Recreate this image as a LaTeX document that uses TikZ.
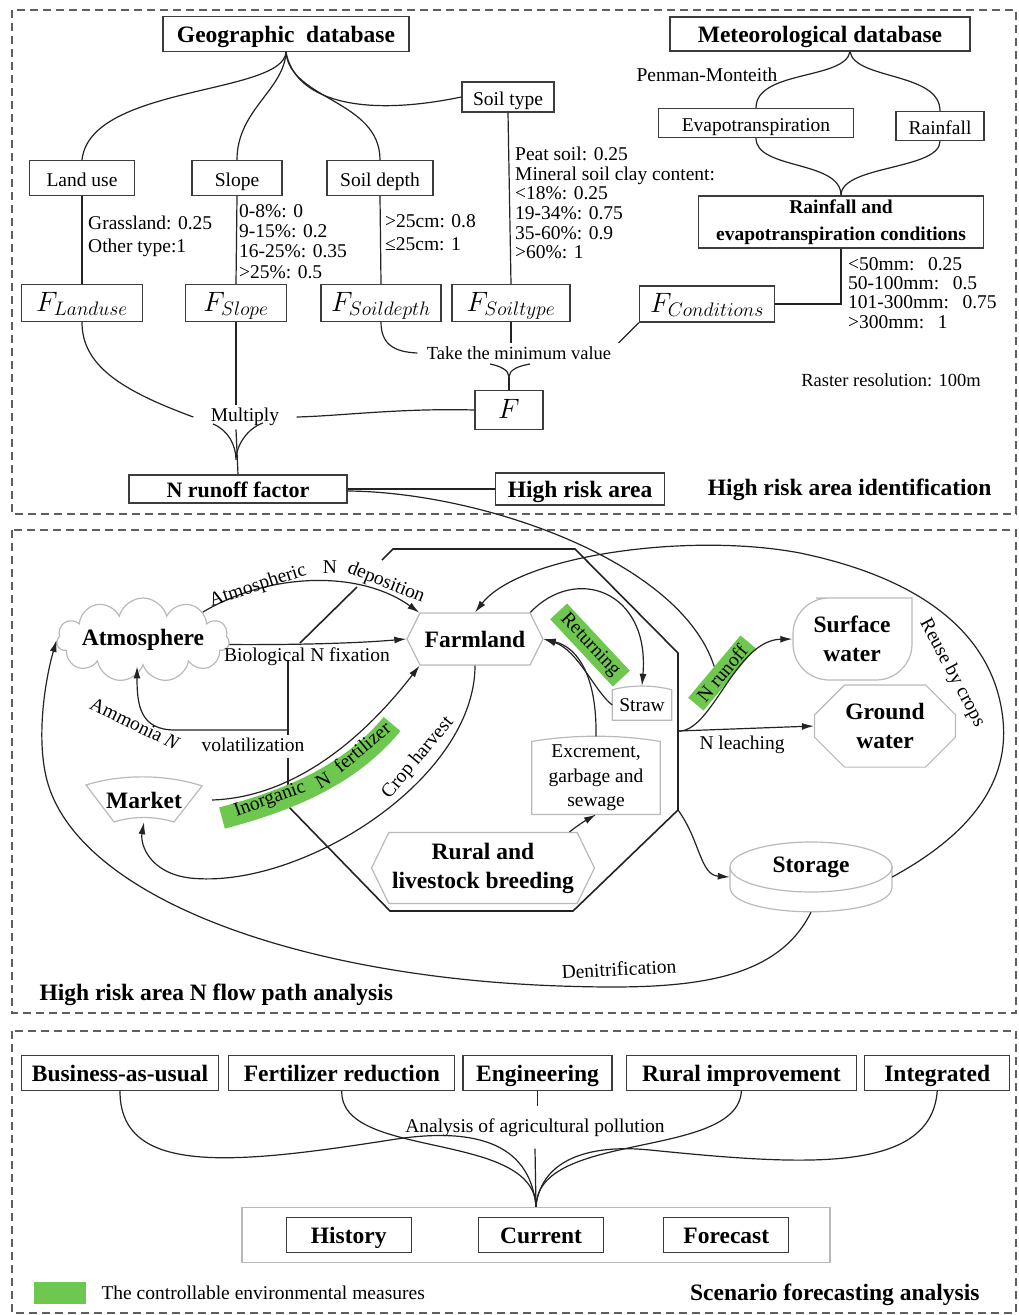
\RequirePackage{fix-cm}
\documentclass[tikz,border=0pt]{standalone}
\usepackage{fontspec}
\setmainfont{Liberation Serif}
\usetikzlibrary{arrows.meta,positioning,shapes.symbols,shapes.misc}
\definecolor{ink}{RGB}{35,35,35}
\definecolor{boxline}{RGB}{60,60,60}
\definecolor{softline}{RGB}{185,185,185}
\definecolor{framegray}{RGB}{95,95,95}
\definecolor{measgreen}{RGB}{110,200,80}
\begin{document}
\begin{tikzpicture}[x=1pt, y=-1pt,
  every node/.style={font=\fontsize{19.5}{20}\selectfont},
  outline/.style={rectangle, draw=boxline, line width=1.3pt, inner sep=2pt},
  box/.style={outline, text height=19pt, text depth=3pt},
  bbox/.style={box, font=\bfseries\fontsize{23.5}{24}\selectfont},
  mbox/.style={box, font=\fontsize{28}{30}\selectfont},
  bold/.style={font=\bfseries\fontsize{23.5}{29}\selectfont, align=center},
  soft/.style={draw=softline, line width=1.2pt},
  link/.style={draw=ink, line width=1.2pt},
  flow/.style={link, -{Latex[length=12pt,width=7pt]}},
  oct/.style={draw=ink, line width=1.6pt},
  measure/.style={fill=measgreen, inner xsep=7pt, inner ysep=3pt},
  vals/.style={anchor=north west, align=left, inner sep=0pt},
  title/.style={font=\bfseries\fontsize{23.5}{24}\selectfont},
  frame/.style={draw=framegray, line width=1.2pt, dash pattern=on 8pt off 5pt}]

\useasboundingbox (0,0) rectangle (1019,1315);

\draw[frame] (12,10) rectangle (1016,514);
\draw[frame] (12,530) rectangle (1016,1013);
\draw[frame] (12,1031) rectangle (1016,1313);

% high risk area identification
\node[bbox, minimum width=246pt, minimum height=35pt] (geo) at (286,34) {Geographic\ \ database};
\node[bbox, minimum width=300pt, minimum height=34pt] (met) at (820,34) {Meteorological database};
\node[box, minimum width=105pt, minimum height=35pt] (landuse) at (82,178) {Land use};
\node[box, minimum width=90pt, minimum height=35pt] (slope) at (237,178) {Slope};
\node[box, minimum width=106pt, minimum height=35pt] (soildepth) at (380,178) {Soil depth};
\node[box, minimum width=92pt, minimum height=30pt] (soiltype) at (508,97) {Soil type};
\node[box, minimum width=195pt, minimum height=29pt] (evapo) at (756,123) {Evapotranspiration};
\node[box, minimum width=88pt, minimum height=29pt] (rainfall) at (940,126) {Rainfall};
\node[outline, align=center, font=\bfseries\fontsize{19.5}{27}\selectfont, minimum width=285pt, minimum height=52pt] (cond) at (841,222) {Rainfall and\\evapotranspiration conditions};

\node[mbox, minimum width=121pt, minimum height=37pt] (fland) at (82,303) {$F_{Landuse}$};
\node[mbox, minimum width=101pt, minimum height=37pt] (fslope) at (236,303) {$F_{Slope}$};
\node[mbox, minimum width=120pt, minimum height=37pt] (fsoild) at (381,303) {$F_{Soildepth}$};
\node[mbox, minimum width=118pt, minimum height=37pt] (fsoilt) at (511,303) {$F_{Soiltype}$};
\node[mbox, minimum width=135pt, minimum height=36pt] (fcond) at (707,304) {$F_{Conditions}$};
\node[mbox, minimum width=68pt, minimum height=39pt] (ftotal) at (509,410) {$F$};
\node[bbox, font=\bfseries\fontsize{22}{24}\selectfont, minimum width=218pt, minimum height=28pt] (nfactor) at (238,489) {N runoff factor};
\node[bbox, minimum width=169pt, minimum height=32pt] (highrisk) at (580,489) {High risk area};

\node[vals, font=\fontsize{19.5}{23}\selectfont] (landvals) at (88,216) {Grassland: 0.25\\Other type:1};
\node[vals, font=\fontsize{19.5}{20.3}\selectfont] (slopevals) at (239,204) {0-8\%: 0\\9-15\%: 0.2\\16-25\%: 0.35\\>25\%: 0.5};
\node[vals, font=\fontsize{19.5}{23}\selectfont] (depthvals) at (385,214) {>25cm: 0.8\\≤25cm: 1};
\node[vals, font=\fontsize{19.5}{19.6}\selectfont] (typevals) at (515,147) {Peat soil: 0.25\\Mineral soil clay content:\\<18\%: 0.25\\19-34\%: 0.75\\35-60\%: 0.9\\>60\%: 1};
\node[vals, font=\fontsize{19.5}{19.3}\selectfont] (condvals) at (848,257) {<50mm:\hspace{0.7em}0.25\\50-100mm:\hspace{0.7em}0.5\\101-300mm:\hspace{0.7em}0.75\\>300mm:\hspace{0.7em}1};
\node (penman) at (707,75) {Penman-Monteith};
\node[font=\fontsize{18.5}{20}\selectfont] (mintext) at (519,353) {Take the minimum value};
\node (multiply) at (245,417) {Multiply};
\node[font=\fontsize{18.5}{20}\selectfont] (raster) at (891,380) {Raster resolution: 100m};
\node[title, anchor=east] (idtitle) at (995,490) {High risk area identification};

\draw[link] (geo.south) .. controls (283,95) and (90,85) .. (landuse.north);
\draw[link] (geo.south) .. controls (284,90) and (237,110) .. (slope.north);
\draw[link] (geo.south) .. controls (290,100) and (380,100) .. (soildepth.north);
\draw[link] (geo.south) .. controls (295,100) and (360,118) .. (soiltype.west);
\draw[link] (landuse.south) -- (fland.north);
\draw[link] (slope.south) -- (fslope.north);
\draw[link] (soildepth.south) -- (fsoild.north);
\draw[link] (soiltype.south) -- (fsoilt.north);
\draw[link] ([xshift=30pt]met.south) .. controls (845,80) and (756,70) .. (evapo.north);
\draw[link] ([xshift=30pt]met.south) .. controls (855,80) and (940,72) .. (rainfall.north);
\draw[link] (evapo.south) .. controls (756,170) and (841,160) .. (cond.north);
\draw[link] (rainfall.south) .. controls (940,170) and (841,165) .. (cond.north);
\draw[link] (cond.south) |- (fcond.east);

\draw[link] (fsoild.south) .. controls (381,345) and (395,352) .. ([xshift=-6pt]mintext.west);
\draw[link] (fsoilt.south) -- (fsoilt.south |- mintext.north);
\draw[link] (fcond.south west) -- ([xshift=4pt]mintext.north east);
\coordinate (minfork) at (509,377);
\coordinate (minleft) at (490,364);
\coordinate (minright) at (530,364);
\draw[link] (minleft) .. controls (500,366) and (509,370) .. (minfork) .. controls (509,370) and (518,366) .. (minright);
\draw[link] (minfork) -- (ftotal.north);

\coordinate (multfork) at (236,460);
\coordinate (multleft) at (213,424);
\coordinate (multright) at (263,423);
\draw[link] (fslope.south) -- (fslope.south |- multiply.north);
\draw[link] (fslope.south |- multiply.south) -- (nfactor.north);
\draw[link] (multleft) .. controls (228,430) and (236,445) .. (multfork) .. controls (236,445) and (248,428) .. (multright);
\draw[link] (fland.south) .. controls (82,365) and (120,390) .. ([xshift=-14pt]multiply.west);
\draw[link] (ftotal.west) .. controls (400,408) and (340,416) .. ([xshift=14pt]multiply.east);
\draw[link] (nfactor.east) -- (highrisk.west);

% N flow path
\node[bold, cloud, cloud puffs=11, cloud ignores aspect, soft, minimum width=142pt, minimum height=84pt, inner sep=0pt] (atmos) at (143,640) {Atmosphere};
\node[bold, signal, signal to=west and east, signal pointer angle=127, soft, minimum width=136pt, minimum height=52pt] (farm) at (475,639) {Farmland};
\node[minimum width=59pt, minimum height=30pt] (straw) at (642,705) {Straw};
\node[align=center, font=\fontsize{19.5}{24.5}\selectfont, minimum width=128pt, minimum height=70pt] (excrement) at (596,778) {Excrement,\\garbage and\\sewage};
\node[bold, signal, signal to=west and east, signal pointer angle=128, soft, minimum width=220pt, minimum height=71pt] (rural) at (483,868) {Rural and\\livestock breeding};
\node[bold, minimum width=119pt, minimum height=82pt] (surface) at (852,639) {Surface\\water};
\node[bold, chamfered rectangle, chamfered rectangle sep=15pt, soft, minimum width=141pt, minimum height=69pt] (ground) at (885,726) {Ground\\water};
\node[bold, minimum width=162pt, minimum height=50pt] (storage) at (811,867) {Storage};
\node[bold, minimum width=116pt, minimum height=44pt] (market) at (144,800) {Market};

\draw[soft] (straw.south west) -- (straw.north west) .. controls +(18,-5) and +(-18,-5) .. (straw.north east) -- (straw.south east) -- cycle;
\draw[soft] (excrement.south west) -- (excrement.north west) .. controls +(40,-7) and +(-40,-7) .. (excrement.north east) -- (excrement.south east) -- cycle;
\draw[soft] (852,598) -- (912,598) -- (912,640) [rounded corners=36pt] -- (912,680) -- (793,680) -- (793,598) -- cycle;
\draw[soft] (811,867) ellipse [x radius=81, y radius=25];
\draw[soft] (730,867) -- (730,887) .. controls (730,920) and (892,920) .. (892,887) -- (892,867);
\draw[soft] (86,785) .. controls (120,774) and (167,774) .. (202,786) -- (174,822) .. controls (155,816) and (132,816) .. (114,822) -- cycle;

\draw[oct] (300,643) -- (357,587);
\draw[oct] (382,560) -- (393,549) -- (575,549) -- (678,653) -- (678,810) -- (573,911) -- (390,911) -- (288,806) -- (288,758);
\draw[oct] (288,735) -- (288,660);
\coordinate (volat) at (288,730);
\coordinate (octE) at (678,731);
\coordinate (octSE) at (678,810);

\draw[measgreen, line width=22pt] (222,818) .. controls (290,800) and (350,775) .. (392,724);
\node[measure, rotate=-47] (returnlab) at (590,645) {Returning};
\node[measure, rotate=50] (runofflab) at (722,673) {N runoff};

\draw[flow] (atmos.25) .. controls (270,572) and (360,570) .. (farm.north west);
\draw[flow] (atmos.-3) .. controls (300,645) and (360,643) .. (farm.west);
\draw[flow] (volat) -- (175,730) .. controls (140,730) and (137,705) .. ([xshift=-6pt]atmos.south);
\draw[flow] ([xshift=10pt]market.east) .. controls (300,797) and (370,730) .. (farm.south west);
\draw[flow] (farm.south) .. controls (475,780) and (300,890) .. (190,878) .. controls (150,873) and (140,845) .. (market.south);
\draw[flow] ([yshift=-10pt]storage.east) .. controls (960,840) and (1010,790) .. (1003,720) .. controls (995,640) and (930,580) .. (800,553) .. controls (690,532) and (520,555) .. (farm.north);
\draw[flow] ([yshift=-20pt]storage.south) .. controls (775,985) and (680,990) .. (560,986) .. controls (300,977) and (90,900) .. (50,790) .. controls (34,746) and (45,680) .. (atmos.west);
\draw[flow] (farm.north east) .. controls (575,565) and (650,590) .. ([yshift=4pt]straw.north);
\draw[flow] (straw.west) .. controls (595,692) and (578,650) .. (farm.east);
\draw[flow] ([yshift=5pt]excrement.north) .. controls (597,680) and (580,648) .. (farm.east);
\draw[flow] ([xshift=-8pt]rural.north east) .. controls (582,822) and (590,818) .. (excrement.south);
\draw[flow] (octE) .. controls (712,733) and (735,640) .. (surface.west);
\draw[flow] (octE) -- (ground.west);
\draw[flow] (octSE) .. controls (700,840) and (700,875) .. ([yshift=-10pt]storage.west);
\draw[link] ([yshift=-2pt]nfactor.east) .. controls (480,492) and (680,560) .. (runofflab.north);

\node[rotate=18] (deplab1) at (258,586) {Atmospheric};
\node (deplab2) at (330,567) {N};
\node[rotate=-22] (deplab3) at (386,583) {deposition};
\node (fixlab) at (307,657) {Biological N fixation};
\node[rotate=-26] (ammlab) at (135,724) {Ammonia \textit{N}};
\node (vollab) at (253,745) {volatilization};
\node[rotate=20] (inorglab1) at (270,800) {Inorganic};
\node[rotate=30] (inorglab2) at (323,780) {N};
\node[rotate=40] (inorglab3) at (362,747) {fertilizer};
\node[rotate=50] (harvlab) at (418,758) {Crop harvest};
\node[rotate=-62] (reuselab) at (952,673) {Reuse by crops};
\node (leachlab) at (742,745) {N leaching};
\node[rotate=3] (denitlab) at (619,969) {Denitrification};
\node[title, anchor=west] (flowtitle) at (36,995) {High risk area N flow path analysis};

% scenario forecasting
\node[bbox, minimum width=197pt, minimum height=35pt] (bau) at (120,1073) {Business-as-usual};
\node[bbox, minimum width=226pt, minimum height=35pt, right=9pt of bau] (fertred) {Fertilizer reduction};
\node[bbox, minimum width=149pt, minimum height=35pt, right=7pt of fertred] (engin) {Engineering};
\node[bbox, minimum width=230pt, minimum height=35pt, right=13pt of engin] (ruralimp) {Rural improvement};
\node[bbox, minimum width=145pt, minimum height=35pt, right=7pt of ruralimp] (integ) {Integrated};
\node (analysis) at (535,1128) {Analysis of agricultural pollution};
\node[soft, minimum width=588pt, minimum height=55pt] (period) at (536,1235) {};
\node[bbox, minimum width=125pt, minimum height=35pt] (current) at (541,1235) {Current};
\node[bbox, minimum width=125pt, minimum height=35pt, left=66pt of current] (history) {History};
\node[bbox, minimum width=125pt, minimum height=35pt, right=59pt of current] (forecast) {Forecast};

\draw[link] (engin.south) -- ++(0,15);
\draw[link] ([yshift=-8pt]analysis.south) -- (period.north);
\draw[link] (bau.south) .. controls (120,1175) and (230,1165) .. (390,1140) .. controls (470,1127) and (530,1140) .. (period.north);
\draw[link] (fertred.south) .. controls (340,1160) and (535,1130) .. (period.north);
\draw[link] (ruralimp.south) .. controls (737,1160) and (537,1130) .. (period.north);
\draw[link] (integ.south) .. controls (931,1175) and (800,1165) .. (650,1150) .. controls (580,1143) and (540,1165) .. (period.north);

\node[fill=measgreen, minimum width=52pt, minimum height=22pt, inner sep=0pt] (legendkey) at (60,1293) {};
\node[anchor=west] (legendtext) at (98,1293) {The controllable environmental measures};
\node[title, anchor=east] (sctitle) at (983,1295) {Scenario forecasting analysis};

\end{tikzpicture}
\end{document}
